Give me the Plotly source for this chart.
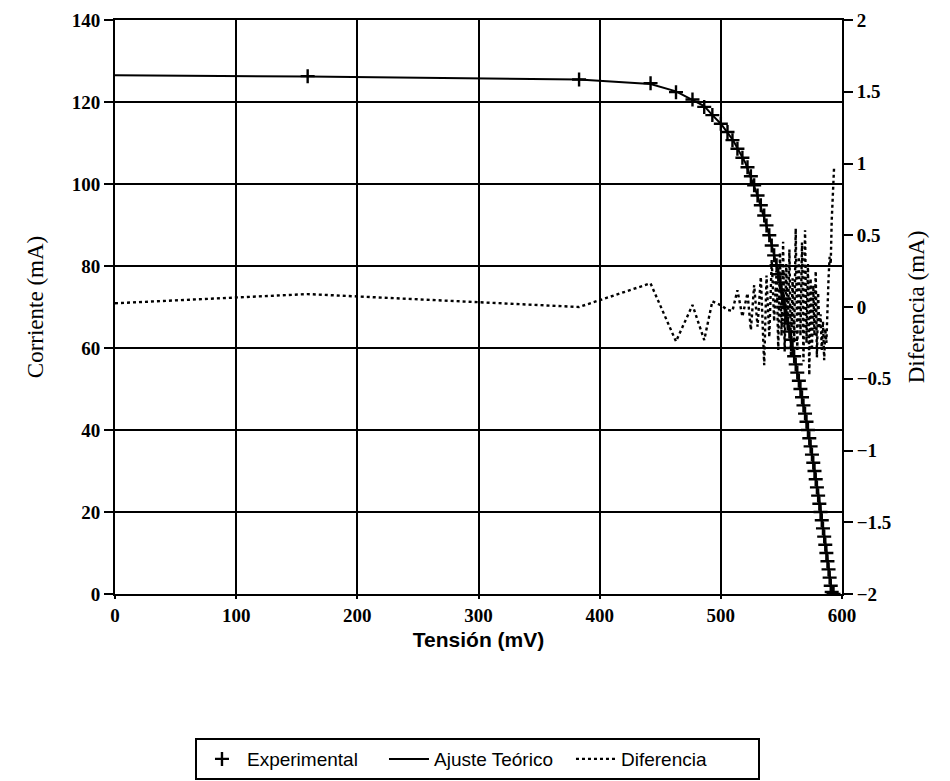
import plotly.graph_objects as go

# Experimental points (Tensión mV, Corriente mA)
v_exp = [159, 383, 442, 463, 476.6, 486.3, 493, 500, 505.5, 509.6, 513.7, 517.8, 522,
         524.8, 527.5, 530.3, 533, 535.8, 537.7, 540, 542, 544, 546, 547.4, 548.8, 550.1,
         551.4, 552.7, 554.0, 555.3, 556.6, 557.9, 559.2, 560.5, 561.8, 563.1, 564.4, 565.7,
         567.0, 568.2, 569.5, 570.7, 571.9, 573.0, 574.1, 575.2, 576.3, 577.3, 578.3, 579.3,
         580.3, 581.3, 582.3, 583.3, 584.3, 585.3, 586.2, 587.1, 588.0, 588.9, 589.8, 590.7,
         591.5, 593.0]
i_exp = [126.3, 125.5, 124.6, 122.4, 120.6, 118.8, 116.8, 114.7, 112.7, 110.7, 108.6,
         106.4, 104.1, 101.9, 99.7, 97.2, 94.8, 92.3, 89.9, 87.5, 85.0, 82.6, 80.2, 78, 76, 74,
         72, 70, 68, 66, 64, 62, 60, 58, 56, 54, 52, 50, 48, 46, 44, 42, 40, 38, 36, 34, 32,
         30, 28, 26, 24, 22, 20, 18, 16, 14, 12, 10, 8, 6, 4, 2, 0.5, 0.0]

# Diferencia (mA)
v_dif = [0, 159, 383, 442, 463, 476.6, 486.3, 493, 500, 505.5, 509.6, 513.7, 517.8, 522,
         524.8, 527.5, 530.3, 533, 535.8, 537.7, 540, 542, 544, 546, 547.4, 548.8, 550.1,
         551.4, 552.7, 554.0, 555.3, 556.6, 557.9, 559.2, 560.5, 561.8, 563.1, 564.4, 565.7,
         567.0, 568.2, 569.5, 570.7, 571.9, 573.0, 574.1, 575.2, 576.3, 577.3, 578.3, 579.3,
         580.3, 581.3, 582.3, 583.3, 584.3, 585.3, 586.2, 587.1, 588.0, 588.9, 589.8, 590.7,
         591.5, 593.5]
d_dif = [0.026, 0.09, 0.0, 0.165, -0.24, 0.014, -0.23, 0.04, 0.013, -0.02, -0.027, 0.117,
         -0.067, 0.096, -0.16, 0.153, -0.137, 0.21, -0.405, 0.22, -0.21, 0.33, -0.1, 0.25,
         -0.3, 0.38, -0.2, 0.455, -0.31, 0.3, -0.15, 0.4, -0.35, 0.2, -0.25, 0.547, -0.3,
         0.35, -0.2, 0.45, -0.38, 0.535, -0.25, 0.3, -0.475, 0.2, -0.3, 0.15, -0.2, 0.25,
         -0.35, 0.1, -0.15, -0.05, -0.3, -0.1, -0.37, -0.15, -0.25, 0.05, 0.2, 0.35, 0.3,
         0.6, 0.98]

# Ajuste teórico
v_fit = [0, 159, 383, 442, 463, 476.6, 486.3, 493, 500, 510, 520, 530, 540, 546, 550, 555,
         560, 565, 570, 575, 580, 585, 590, 592]
i_fit = [126.5, 126.2, 125.5, 124.4, 122.6, 120.6, 119.0, 116.8, 114.7, 110.7, 105.3, 97.4,
         87.5, 80.2, 74.2, 66.5, 58.7, 51.0, 43.2, 34.8, 25.4, 15.0, 3.6, 0.0]

x_ticks = [0, 100, 200, 300, 400, 500, 600]
y_ticks = [0, 20, 40, 60, 80, 100, 120, 140]
y2_ticks = [-2, -1.5, -1, -0.5, 0, 0.5, 1, 1.5, 2]
y2_text = ["−2", "−1.5", "−1", "−0.5", "0", "0.5", "1", "1.5", "2"]

SERIF = "Liberation Serif, DejaVu Serif, serif"
SANS = "Liberation Sans, Arial, sans-serif"

fig = go.Figure()
fig.add_trace(go.Scatter(
    x=v_exp, y=i_exp, mode="markers", name="Experimental",
    marker=dict(symbol="cross-thin", size=10, color="black",
                line=dict(color="black", width=2.4)),
))
fig.add_trace(go.Scatter(
    x=v_fit, y=i_fit, mode="lines", name="Ajuste Teórico",
    line=dict(color="black", width=2),
))
fig.add_trace(go.Scatter(
    x=v_dif, y=d_dif, mode="lines", name="Diferencia", yaxis="y2",
    line=dict(color="black", width=2.4, dash="dot"),
))

tickfont = dict(family=SERIF, size=19, color="black", weight="bold")

fig.update_layout(
    width=950, height=781,
    margin=dict(l=115, r=108, t=20, b=187, autoexpand=False),
    paper_bgcolor="white", plot_bgcolor="white",
    showlegend=True,
    legend=dict(
        orientation="h", x=0.4986, xanchor="center", y=-0.251, yanchor="top",
        bordercolor="black", borderwidth=2, bgcolor="white",
        font=dict(family=SANS, size=19, color="black"),
        itemwidth=40, entrywidth=132, entrywidthmode="pixels", traceorder="normal",
    ),
    xaxis=dict(
        range=[0, 600], tickvals=x_ticks, ticktext=[str(v) for v in x_ticks],
        showgrid=True, gridcolor="black", gridwidth=2,
        showline=True, linecolor="black", linewidth=2, mirror=True,
        ticks="outside", ticklen=3, tickwidth=2, tickcolor="black",
        tickfont=tickfont, zeroline=False,
        title=dict(text="<b>Tensión (mV)</b>", font=dict(family=SANS, size=21, color="black"),
                   standoff=8),
    ),
    yaxis=dict(
        range=[0, 140], tickvals=y_ticks, ticktext=[str(v) for v in y_ticks],
        showgrid=True, gridcolor="black", gridwidth=2,
        showline=True, linecolor="black", linewidth=2, mirror=True,
        ticks="outside", ticklen=9, tickwidth=2, tickcolor="black",
        tickfont=tickfont, zeroline=False,
        title=dict(text="Corriente (mA)", font=dict(family=SERIF, size=23, color="black"),
                   standoff=22),
    ),
    yaxis2=dict(
        range=[-2, 2], tickvals=y2_ticks, ticktext=y2_text,
        overlaying="y", side="right", showgrid=False, zeroline=False,
        showline=True, linecolor="black", linewidth=2,
        ticks="outside", ticklen=9, tickwidth=2, tickcolor="black",
        tickfont=tickfont,
        title=dict(text="Diferencia (mA)", font=dict(family=SERIF, size=23, color="black"),
                   standoff=18),
    ),
)

fig.write_html("out.html")
